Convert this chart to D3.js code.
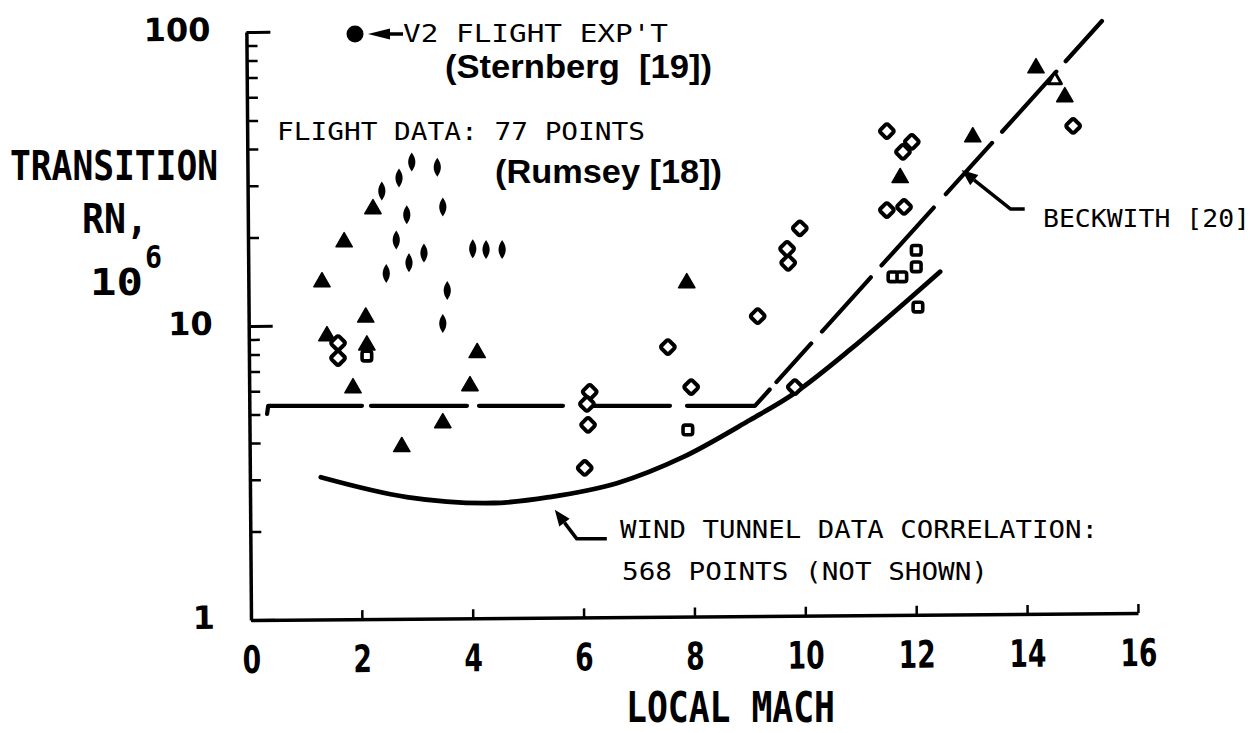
<!DOCTYPE html>
<html><head><meta charset="utf-8">
<script src="https://cdn.jsdelivr.net/npm/d3@7"></script>
<style>body{margin:0;background:#fff}svg{display:block}text{white-space:pre}</style>
</head><body>
<svg id="c" width="1260" height="733"></svg>
<script>
// ---------- data ----------
const xTicks = [0, 2, 4, 6, 8, 10, 12, 14, 16];
const yMajor = [1, 10, 100];
const yMinor = [2, 3, 4, 5, 6, 7, 8, 9, 20, 30, 40, 50, 60, 70, 80, 90];

// flight data (Rumsey [18]) - filled narrow diamonds
const flightDiamonds = [[2.90,36.1],[3.36,34.7],[2.67,31.9],[2.36,28.8],[3.46,25.4],[2.81,23.9],
  [2.62,19.6],[3.12,17.7],[2.85,16.4],[2.44,15.1],[3.54,13.2],[3.46,10.2],[4.00,18.3],[4.24,18.2],[4.53,18.2]];
// filled triangles
const flightTriangles = [[2.20,25.0],[1.68,19.3],[1.28,14.1],[2.07,10.7],[1.37,9.25],[2.09,8.6],[4.08,8.1],
  [1.84,6.15],[3.95,6.25],[3.46,4.68],[2.72,3.88],[7.86,14.0],[11.71,31.9],[13.02,43.9],[14.16,75.4],[14.68,60.1]];
// open diamonds
const openDiamonds = [[1.57,8.75],[1.57,7.78],[6.11,5.97],[6.06,5.43],[6.08,4.61],[6.02,3.29],[7.52,8.48],
  [7.94,6.20],[9.14,10.8],[9.67,18.3],[9.69,16.4],[9.90,21.5],[9.81,6.20],[11.47,46.0],[11.92,42.3],
  [11.76,39.1],[11.47,24.8],[11.78,25.4],[14.83,47.9]];
// open squares
const openSquares = [[2.09,7.9],[7.88,4.43],[12.00,18.1],[12.00,15.9],[11.58,14.7],[11.74,14.7],[12.03,11.6]];
// open triangle
const openTriangles = [[14.50,68.7]];

// wind tunnel data correlation (solid)
const windTunnel = [[1.26,3.06],[2.81,2.62],[4.37,2.50],[5.39,2.62],[6.60,2.92],[7.79,3.58],
  [9.00,4.79],[9.81,5.92],[10.80,8.29],[12.43,15.3]];
// Beckwith [20] (dashed)
const beckwith = [[0.29,5.02],[0.31,5.35],[9.09,5.35],[15.35,109]];

// annotation arrow tips (data coords)
const beckwithTip = [12.82, 33.9];
const windTip = [5.48, 2.37];

// ---------- scales ----------
const svg = d3.select("#c");
const x = d3.scaleLinear().domain([0,16]).range([251,1138]);
const y = d3.scaleLog().domain([1,100]).range([620,32]);

// ---------- axes ----------
const axes = svg.append("g").attr("transform","rotate(-0.45,251,620)");
const xAxis = d3.axisBottom(x).tickValues(xTicks).tickSize(-9).tickSizeOuter(0)
  .tickPadding(26).tickFormat(d3.format("d"));
const gx = axes.append("g").attr("transform",`translate(0,${y(1)})`).call(xAxis);
gx.select(".domain").attr("stroke-width",3.5).attr("stroke","#000");
gx.selectAll(".tick line").attr("stroke-width",2.5);
gx.selectAll(".tick text").attr("font-family","DejaVu Sans").attr("font-weight","bold")
  .attr("font-size",38).attr("fill","#000").attr("transform","scale(0.7,1)");

const yAxisMinor = d3.axisLeft(y).tickValues(yMinor).tickSize(-11).tickSizeOuter(0).tickFormat("");
const gyMin = axes.append("g").attr("transform",`translate(${x(0)},0)`).call(yAxisMinor);
gyMin.select(".domain").remove();
gyMin.selectAll(".tick line").attr("stroke-width",2.5);

const yAxisMajor = d3.axisLeft(y).tickValues(yMajor).tickSize(-24).tickSizeOuter(0)
  .tickPadding(36).tickFormat(d3.format("d"));
const gy = axes.append("g").attr("transform",`translate(${x(0)},0)`).call(yAxisMajor);
gy.select(".domain").attr("stroke-width",3.5);
gy.selectAll(".tick line").attr("stroke-width",3);
gy.selectAll(".tick text").attr("font-family","DejaVu Sans").attr("font-weight","bold")
  .attr("font-size",32).attr("fill","#000").attr("dy","0.25em");

// ---------- lines ----------
const plot = svg.append("g");
const line = d3.line().x(d=>x(d[0])).y(d=>y(d[1]));
plot.append("path").datum(beckwith)
  .attr("d", line)
  .attr("fill","none").attr("stroke","#000").attr("stroke-width",4.2)
  .attr("stroke-linecap","round").attr("stroke-linejoin","round")
  .attr("stroke-dasharray","102,9,96,12,84,30,77,17,90,10,52,16,73,16,78,18,69,15,81,14,66");
plot.append("path").datum(windTunnel)
  .attr("d", line.curve(d3.curveCatmullRom.alpha(0.5)))
  .attr("fill","none").attr("stroke","#000").attr("stroke-width",4.8).attr("stroke-linecap","round");

// ---------- markers ----------
const tr = d => `translate(${x(d[0])},${y(d[1])})`;
plot.selectAll(".fd").data(flightDiamonds).join("path").attr("class","fd")
  .attr("d","M0,-9.5C4.8,-3 4.8,3 0,9.5C-4.8,3 -4.8,-3 0,-9.5Z")
  .attr("transform",tr).attr("fill","#000");
plot.selectAll(".ft").data(flightTriangles).join("path").attr("class","ft")
  .attr("d", d3.symbol(d3.symbolTriangle, 115))
  .attr("transform",tr).attr("fill","#000").attr("stroke","#000").attr("stroke-width",1.5)
  .attr("stroke-linejoin","round");
plot.selectAll(".od").data(openDiamonds).join("rect").attr("class","od")
  .attr("x",-5.5).attr("y",-5.5).attr("width",11).attr("height",11).attr("rx",2.2)
  .attr("transform",d=>tr(d)+" rotate(45)")
  .attr("fill","#fff").attr("stroke","#000").attr("stroke-width",4);
plot.selectAll(".os").data(openSquares).join("rect").attr("class","os")
  .attr("x",-4.8).attr("y",-4.8).attr("width",9.6).attr("height",9.6).attr("rx",2.2)
  .attr("transform",tr)
  .attr("fill","#fff").attr("stroke","#000").attr("stroke-width",3.6);
plot.selectAll(".ot").data(openTriangles).join("path").attr("class","ot")
  .attr("d", d3.symbol(d3.symbolTriangle, 75))
  .attr("transform",tr).attr("fill","#fff").attr("stroke","#000").attr("stroke-width",3)
  .attr("stroke-linejoin","round");

// ---------- annotations ----------
const ann = svg.append("g");
function arrow(tip, elbow, end){
  const dx = elbow[0]-tip[0], dy = elbow[1]-tip[1], L = Math.hypot(dx,dy);
  const ux = dx/L, uy = dy/L, hl = 16, hw = 6.5;
  const bx = tip[0]+ux*hl, by = tip[1]+uy*hl;
  ann.append("path").attr("d",`M${bx},${by}L${elbow[0]},${elbow[1]}L${end[0]},${end[1]}`)
    .attr("fill","none").attr("stroke","#000").attr("stroke-width",3.5).attr("stroke-linejoin","round");
  ann.append("path").attr("d",`M${tip[0]},${tip[1]}L${bx-uy*hw},${by+ux*hw}L${bx+uy*hw},${by-ux*hw}Z`)
    .attr("fill","#000");
}
const bt = [x(beckwithTip[0]), y(beckwithTip[1])];
arrow(bt, [bt[0]+49, bt[1]+39], [bt[0]+63, bt[1]+39]);
const wt = [x(windTip[0]), y(windTip[1])];
arrow(wt, [wt[0]+22, wt[1]+29], [wt[0]+52, wt[1]+29]);

// V2 legend
ann.append("circle").attr("cx",355).attr("cy",34).attr("r",8.5).attr("fill","#000");
ann.append("path").attr("d","M368,34L390,28.5L390,39.5Z").attr("fill","#000");
ann.append("line").attr("x1",388).attr("y1",34).attr("x2",403).attr("y2",34)
  .attr("stroke","#000").attr("stroke-width",3.5);

function txt(s, xx, yy, size, len, opts={}){
  const t = ann.append("text").attr("x",xx).attr("y",yy).text(s)
    .attr("font-family", opts.family || "DejaVu Sans Mono")
    .attr("font-weight", opts.weight || "normal")
    .attr("font-size", size).attr("fill","#000");
  if(len) t.attr("textLength",len).attr("lengthAdjust","spacingAndGlyphs");
  return t;
}
txt("V2 FLIGHT EXP'T", 403, 42, 24, 265);
txt("(Sternberg  [19])", 445, 78, 33, 267, {family:"Liberation Sans, Arial, sans-serif", weight:"bold"});
txt("FLIGHT DATA: 77 POINTS", 277, 140, 25, 368);
txt("(Rumsey [18])", 495, 183, 33, 227, {family:"Liberation Sans, Arial, sans-serif", weight:"bold"});
txt("BECKWITH [20]", 1043, 227, 25, 207);
txt("WIND TUNNEL DATA CORRELATION:", 620, 538, 25, 478);
txt("568 POINTS (NOT SHOWN)", 622, 580, 25, 366);

txt("TRANSITION", 10, 180, 41, 208, {weight:"bold"});
txt("RN,", 82, 233, 41, 66, {weight:"bold"});
txt("10", 90, 295, 38, 53, {weight:"bold"});
txt("6", 145, 268, 32, 17, {weight:"bold"});
txt("LOCAL MACH", 626, 722, 43, 209, {weight:"bold"});
</script>
</body></html>
